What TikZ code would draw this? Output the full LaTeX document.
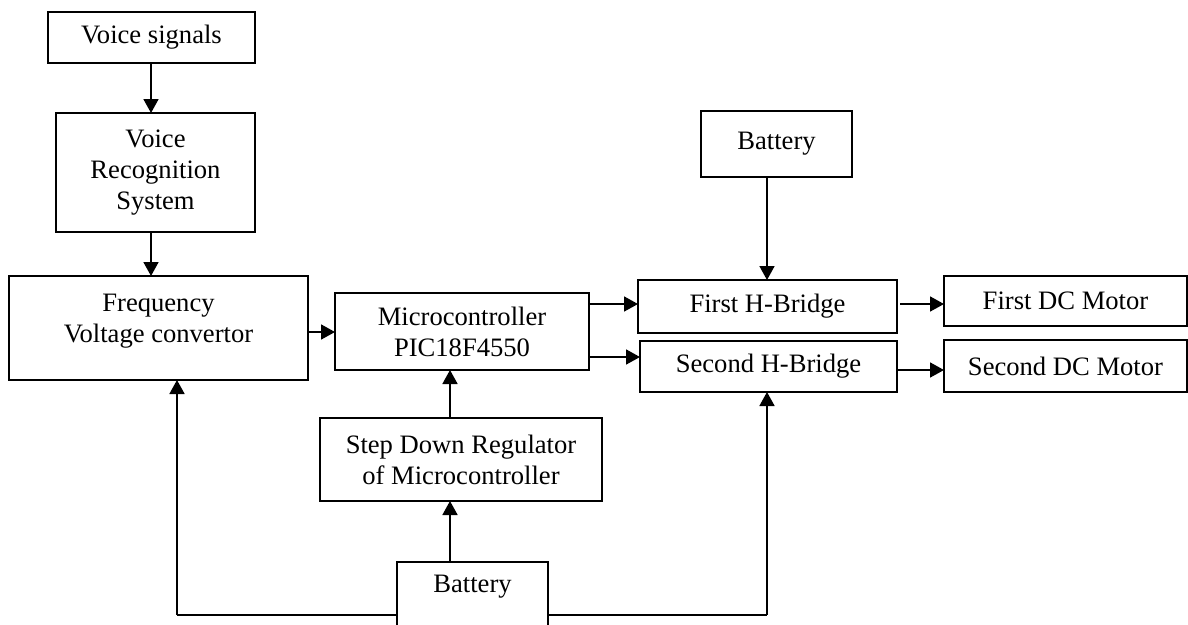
\documentclass[tikz,border=0pt]{standalone}
\usepackage{fontspec}
\setmainfont{Liberation Serif}
\usetikzlibrary{arrows.meta,calc}

\tikzset{
  blk/.style={draw, line width=1.7pt, rectangle, inner sep=0pt, outer sep=0pt,
              align=center, font=\fontsize{26.6}{31}\selectfont},
  lbl/.style={inner sep=0pt, align=center, font=\fontsize{26.6}{31}\selectfont},
  arr/.style={line width=1.7pt, -{Triangle[length=14pt,width=15pt]}},
  wire/.style={line width=1.7pt}
}

\begin{document}
\begin{tikzpicture}[x=1pt,y=-1pt]
\useasboundingbox (0,0) rectangle (1188,624);
\clip (0,0) rectangle (1188,624);

% blocks
\node[blk, minimum width=207pt, minimum height=51pt] (vs)  at (151.5,37.5) {Voice signals};
\node[blk, minimum width=199pt, minimum height=119pt] (vrs) at (155.5,172.5) {Voice\\Recognition\\System};
\node[blk, minimum width=299pt, minimum height=104pt] (fvc) at (158.5,328) {};
\node[lbl] (fvcT) at (158.5,321) {Frequency\\Voltage convertor};
\node[blk, minimum width=254pt, minimum height=77pt] (mc)  at (462,331.5) {Microcontroller\\PIC18F4550};
\node[blk, minimum width=259pt, minimum height=53pt] (hb1) at (767.5,306.5) {First H-Bridge};
\node[blk, minimum width=257pt, minimum height=51pt] (hb2) at (768.5,366.5) {Second H-Bridge};
\node[blk, minimum width=151pt, minimum height=66pt] (bt)  at (776.5,144) {\raisebox{2pt}{Battery}};
\node[blk, minimum width=243pt, minimum height=50pt] (m1)  at (1065.5,301) {First DC Motor};
\node[blk, minimum width=243pt, minimum height=52pt] (m2)  at (1065.5,366) {Second DC Motor};
\node[blk, minimum width=282pt, minimum height=83pt] (sd)  at (461,459.5) {Step Down Regulator\\of Microcontroller};
\node[blk, minimum width=151pt, minimum height=70pt] (bb)  at (472.5,597) {};
\node[lbl] (bbT) at (472.5,587) {Battery};

% routing points
\coordinate (xv) at (151,0);
\coordinate (xb) at (767,0);
\coordinate (xs) at (450,0);
\coordinate (cl) at (177,615);
\coordinate (cr) at (767,615);

% signal path
\draw[arr] (vs.south -| xv) -- (vrs.north -| xv);
\draw[arr] (vrs.south -| xv) -- (fvc.north -| xv);
\draw[arr] (fvc.east |- 0,332) -- (mc.west |- 0,332);
\draw[arr] (mc.east |- 0,304) -- (hb1.west |- 0,304);
\draw[arr] (mc.east |- 0,357) -- (hb2.west |- 0,357);
\draw[arr] ($(hb1.east |- 0,304)+(3,0)$) -- (m1.west |- 0,304);
\draw[arr] (hb2.east |- 0,370) -- (m2.west |- 0,370);

% power path
\draw[arr] (bt.south -| xb) -- (hb1.north -| xb);
\draw[arr] (bb.north -| xs) -- (sd.south -| xs);
\draw[arr] (sd.north -| xs) -- (mc.south -| xs);
\draw[wire] (bb.west |- cl) -- (cl);
\draw[arr] (cl) -- (cl |- fvc.south);
\draw[wire] (bb.east |- cr) -- (cr);
\draw[arr] (cr) -- (cr |- hb2.south);
\end{tikzpicture}
\end{document}
